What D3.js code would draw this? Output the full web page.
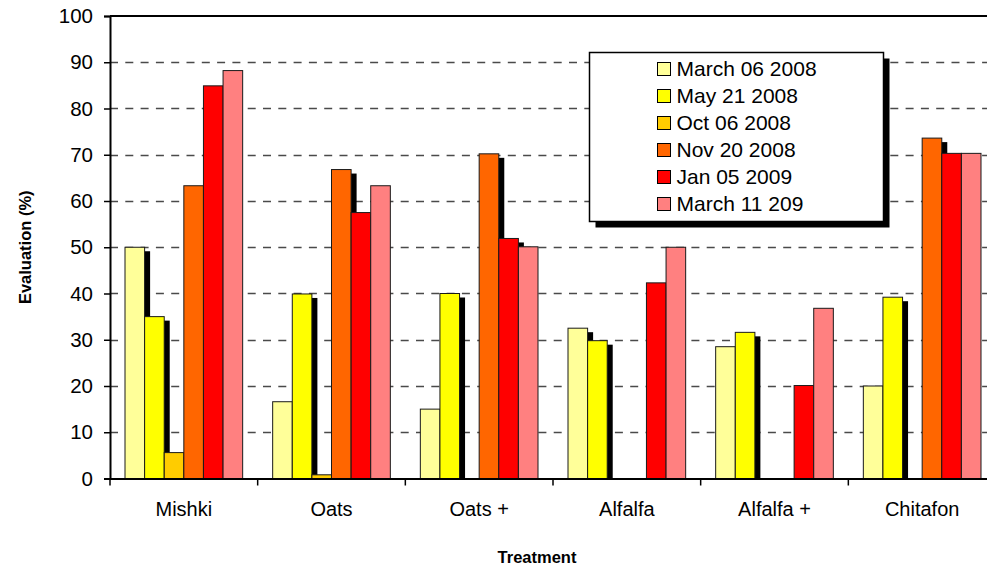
<!DOCTYPE html>
<html>
<head>
<meta charset="utf-8">
<script src="https://cdn.jsdelivr.net/npm/d3@7"></script>
<style>
  html, body { margin: 0; padding: 0; background: #fff; }
  svg { display: block; }
  text { font-family: Arial, "Liberation Sans", Helvetica, sans-serif; fill: #000; }
</style>
</head>
<body>
<svg id="chart" width="987" height="574"></svg>
<script>
const categories = ["Mishki", "Oats", "Oats +", "Alfalfa", "Alfalfa +", "Chitafon"];
const seriesNames = ["March 06 2008", "May 21 2008", "Oct 06 2008", "Nov 20 2008", "Jan 05 2009", "March 11 209"];
const seriesColors = ["#FFFF99", "#FFFF00", "#FFCC00", "#FF6600", "#FF0000", "#FF8080"];
const march06 = [50, 16.6, 15, 32.5, 28.5, 20];
const may21   = [35, 39.9, 40, 29.8, 31.6, 39.2];
const oct06   = [5.6, 0.8, 0, 0, 0, 0];
const nov20   = [63.3, 66.8, 70.2, 0, 0, 73.6];
const jan05   = [84.9, 57.5, 51.9, 42.3, 20.1, 70.3];
const march11 = [88.2, 63.3, 50.1, 50, 36.8, 70.3];
const yTicks = [0, 10, 20, 30, 40, 50, 60, 70, 80, 90, 100];
const xTitle = "Treatment";
const yTitle = "Evaluation (%)";

const seriesValues = [march06, may21, oct06, nov20, jan05, march11];

(function () {
const svg = d3.select("#chart");
const pLeft = 110, pRight = 996, pTop = 16, pBottom = 478.5;

const x = d3.scaleBand().domain(categories).range([pLeft, pRight]).paddingInner(0).paddingOuter(0);
const groupPad = 15;
const xs = d3.scaleBand().domain(d3.range(seriesNames.length))
  .range([groupPad, x.bandwidth() - groupPad]).padding(0);
const y = d3.scaleLinear().domain([0, 100]).range([pBottom, pTop]);

// gridlines
svg.append("g").selectAll("line").data(yTicks.filter(t => t > 0 && t < 100)).join("line")
  .attr("x1", pLeft).attr("x2", pRight)
  .attr("y1", d => Math.round(y(d)) + 0.5).attr("y2", d => Math.round(y(d)) + 0.5)
  .attr("stroke", "#4a4a4a").attr("stroke-width", 1.3)
  .attr("stroke-dasharray", "8,7.3");

// flatten data
const bars = [];
seriesValues.forEach((vals, s) => {
  vals.forEach((v, c) => { if (v > 0) bars.push({ s, c: categories[c], v }); });
});

// shadows (series 0-4)
const sdx = 5.5, sdy = 4;
svg.append("g").selectAll("rect").data(bars.filter(d => d.s < 5)).join("rect")
  .attr("x", d => x(d.c) + xs(d.s) + sdx)
  .attr("y", d => y(d.v) + sdy)
  .attr("width", xs.bandwidth())
  .attr("height", d => Math.max(0, y(0) - y(d.v) - sdy))
  .attr("fill", "#000");

// bars
svg.append("g").selectAll("rect").data(bars).join("rect")
  .attr("x", d => x(d.c) + xs(d.s))
  .attr("y", d => y(d.v))
  .attr("width", xs.bandwidth())
  .attr("height", d => y(0) - y(d.v))
  .attr("fill", d => seriesColors[d.s])
  .attr("stroke", "#1a1a1a").attr("stroke-width", 1);

// plot border: top
svg.append("line").attr("x1", pLeft).attr("x2", pRight).attr("y1", pTop).attr("y2", pTop)
  .attr("stroke", "#000").attr("stroke-width", 2);

// y axis
const yAxis = d3.axisLeft(y).tickValues(yTicks).tickSize(6).tickPadding(11);
const gy = svg.append("g").attr("transform", `translate(${pLeft},0)`).call(yAxis);
gy.select(".domain").attr("stroke", "#000").attr("stroke-width", 2);
gy.selectAll(".tick line").attr("stroke", "#000").attr("stroke-width", 1.5);
gy.selectAll(".tick text").attr("font-size", 20.5).attr("font-family", "Arial, 'Liberation Sans', sans-serif").attr("fill", "#000");

// x axis
const xAxis = d3.axisBottom(x).tickSize(0).tickPadding(23);
const gx = svg.append("g").attr("transform", `translate(0,${pBottom})`).call(xAxis);
gx.select(".domain").attr("stroke", "#000").attr("stroke-width", 2);
gx.selectAll(".tick text").attr("font-size", 20).attr("font-family", "Arial, 'Liberation Sans', sans-serif").attr("fill", "#000");
gx.append("g").selectAll("line").data(categories).join("line")
  .attr("x1", d => x(d)).attr("x2", d => x(d))
  .attr("y1", 0).attr("y2", 7)
  .attr("stroke", "#000").attr("stroke-width", 1.5);

// axis titles
svg.append("text").attr("x", 537).attr("y", 563).attr("text-anchor", "middle")
  .attr("font-size", 16.5).attr("font-weight", "bold").text(xTitle);
svg.append("text").attr("transform", `translate(31,${(pTop + pBottom) / 2}) rotate(-90)`)
  .attr("text-anchor", "middle").attr("font-size", 16.5).attr("font-weight", "bold").text(yTitle);

// legend
const lx = 589.5, ly = 52.5, lw = 294, lh = 169;
svg.append("rect").attr("x", lx + 6).attr("y", ly + 6).attr("width", lw).attr("height", lh).attr("fill", "#000");
svg.append("rect").attr("x", lx).attr("y", ly).attr("width", lw).attr("height", lh)
  .attr("fill", "#fff").attr("stroke", "#000").attr("stroke-width", 1.5);
const leg = svg.append("g").selectAll("g").data(seriesNames).join("g")
  .attr("transform", (d, i) => `translate(0,${69 + i * 27})`);
leg.append("rect").attr("x", 657.5).attr("y", -6.5).attr("width", 13).attr("height", 13)
  .attr("fill", (d, i) => seriesColors[i]).attr("stroke", "#000").attr("stroke-width", 1);
leg.append("text").attr("x", 676.5).attr("y", 7.2).attr("font-size", 21).text(d => d);
})();
</script>
</body>
</html>
